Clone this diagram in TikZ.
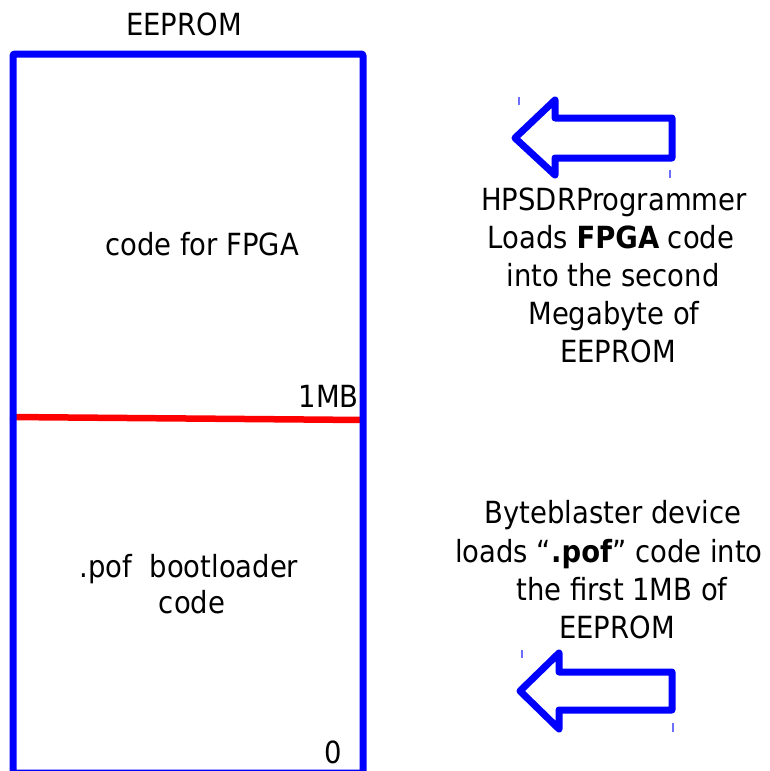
\documentclass[tikz,border=0pt]{standalone}
\usepackage{fontspec}
\setmainfont{DejaVu Sans Condensed}
\definecolor{pureblue}{RGB}{0,0,255}
\definecolor{purered}{RGB}{255,0,0}
\definecolor{tickblue}{RGB}{110,110,255}
\begin{document}
\begin{tikzpicture}[x=1pt,y=-1pt,
  lbl/.style={inner sep=0pt,anchor=base,font=\fontsize{30.5}{38}\selectfont},
  memframe/.style={draw=pureblue,line width=7pt,rounded corners=2pt},
  divider/.style={draw=purered,line width=6.5pt},
  bigarrow/.style={draw=pureblue,line width=7pt,line join=round,fill=white},
  handle/.style={draw=tickblue,line width=1.5pt}]
\useasboundingbox (0,0) rectangle (770,771);
% memory frame
\draw[divider] (10,417) coordinate (dl) -- (363,420) coordinate (dr);
\draw[memframe] (13,54) rectangle (363,773);
\node[lbl] (title) at (184,35) {EEPROM};
\node[lbl] (fpga) at (202,255) {code for FPGA};
\node[lbl,anchor=base east] (mb) at (359,407) {1MB};
\node[lbl] (boot1) at (189,577) {.pof\ \ bootloader};
\node[lbl] (boot2) at (192,613) {code};
\node[lbl,anchor=base east] (zero) at (342,763) {0};
% upper arrow
\draw[bigarrow] (515,138) -- (555,100) -- (555,118) -- (672,118) -- (672,158) -- (555,158) -- (555,175) -- cycle;
\draw[handle] (519,97) -- (519,105);
\draw[handle] (670,170) -- (670,178);
\node[lbl] (u1) at (614,210) {HPSDRProgrammer};
\node[lbl] (u2) at (611,248) {Loads \textbf{FPGA} code};
\node[lbl] (u3) at (613,286) {into the second};
\node[lbl] (u4) at (614,324) {Megabyte of};
\node[lbl] (u5) at (618,362) {EEPROM};
% lower arrow
\node[lbl] (l1) at (613,523) {Byteblaster device};
\node[lbl] (l2) at (609,562) {loads “\textbf{.pof}” code into};
\node[lbl] (l3) at (622,600) {the first 1MB of};
\node[lbl] (l4) at (617,638) {EEPROM};
\draw[bigarrow] (520,691) -- (559,653) -- (559,672) -- (672,672) -- (672,710) -- (559,710) -- (559,729) -- cycle;
\draw[handle] (522,650) -- (522,658);
\draw[handle] (673,723) -- (673,732);
\end{tikzpicture}
\end{document}
